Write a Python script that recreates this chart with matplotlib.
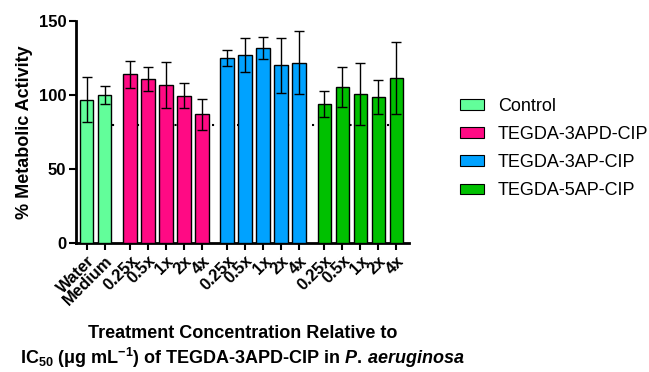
import numpy as np
import matplotlib
matplotlib.use("Agg")
import matplotlib.pyplot as plt
from matplotlib.patches import Patch

plt.rcParams['font.family'] = ['Liberation Sans', 'DejaVu Sans']
plt.rcParams['mathtext.fontset'] = 'custom'
plt.rcParams['mathtext.rm'] = 'Liberation Sans:bold'
plt.rcParams['mathtext.bf'] = 'Liberation Sans:bold'
plt.rcParams['mathtext.it'] = 'Liberation Sans:bold:italic'

groups = ["Control", "TEGDA-3APD-CIP", "TEGDA-3AP-CIP", "TEGDA-5AP-CIP"]
colors = ["#62FE9A", "#FF0A84", "#00A2FF", "#00C000"]

labels = [["Water", "Medium"],
          ["0.25x", "0.5x", "1x", "2x", "4x"],
          ["0.25x", "0.5x", "1x", "2x", "4x"],
          ["0.25x", "0.5x", "1x", "2x", "4x"]]
means = [[97, 100],
         [114, 111, 107, 99.5, 87],
         [125, 127, 132, 120, 122],
         [94, 105.5, 100.5, 99, 111.5]]
sds = [[15, 6],
       [9, 8, 15.5, 8.5, 10.5],
       [5.5, 11.5, 7.5, 18.5, 21],
       [9, 13.5, 21, 11.5, 24.5]]
threshold = 80

fig = plt.figure(figsize=(6.49, 3.72), dpi=100)
ax = fig.add_axes([0.117, 0.346, 0.513, 0.5975])

start = 0
xs_all, lab_all = [], []
for g in range(len(groups)):
    n = len(means[g])
    xs = start + np.arange(n)
    xs_all += list(xs)
    lab_all += labels[g]
    ax.bar(xs, means[g], width=0.74, color=colors[g], edgecolor="black",
           linewidth=1.0, zorder=3)
    ax.errorbar(xs, means[g], yerr=sds[g], fmt="none", ecolor="black",
                elinewidth=1.0, capsize=3.5, capthick=1.0, zorder=4)
    start = xs[-1] + 1.4

ax.plot([xs_all[0], xs_all[-1]], [threshold, threshold], color="black",
        linestyle=(0, (1, 5)), linewidth=1.5, zorder=1)

ax.set_xlim(-0.6, 17.9)
ax.set_ylim(0, 150)
ax.set_yticks([0, 50, 100, 150])
ax.set_xticks(xs_all)
ax.set_xticklabels(lab_all, rotation=45, ha="right", rotation_mode="anchor",
                   fontsize=12, fontweight="bold")
for t in ax.get_yticklabels():
    t.set_fontweight("bold")
    t.set_fontsize(12)
ax.tick_params(axis="both", direction="out", length=5, width=1.5, pad=2)
for s in ["top", "right"]:
    ax.spines[s].set_visible(False)
for s in ["left", "bottom"]:
    ax.spines[s].set_linewidth(2)

ax.set_ylabel("% Metabolic Activity", fontsize=13, fontweight="bold", labelpad=4)
ax.set_xlabel("Treatment Concentration Relative to\n"
              "IC$_{50}$ (μg mL$^{-1}$) of TEGDA-3APD-CIP in $\\it{P.\\,aeruginosa}$",
              fontsize=13, fontweight="bold", labelpad=12, linespacing=1.25)

handles = [Patch(facecolor=c, edgecolor="black", linewidth=0.8) for c in colors]
fig.legend(handles, groups, loc="upper left", bbox_to_anchor=(0.709, 0.737),
           frameon=False, fontsize=13, handlelength=1.3, handleheight=0.55,
           labelspacing=0.62, handletextpad=0.8, borderpad=0, borderaxespad=0)

fig.savefig("out.png", dpi=100)
